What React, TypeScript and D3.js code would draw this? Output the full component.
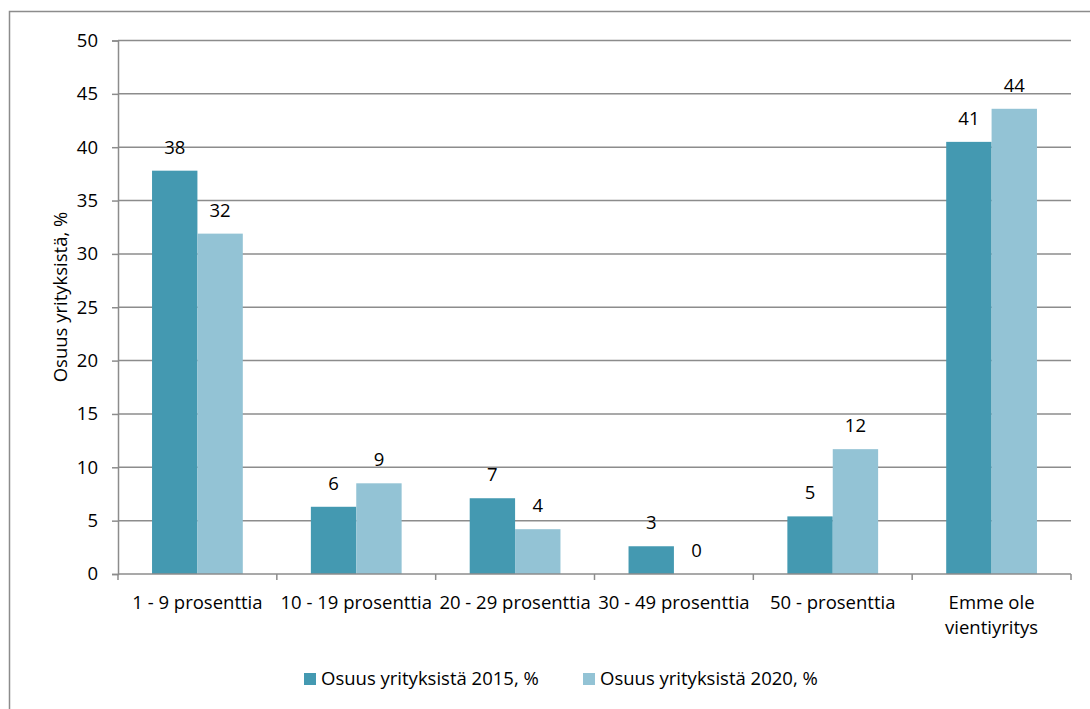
import * as d3 from "d3";
import { useEffect, useRef } from "react";

const categories = [
  ["1 - 9 prosenttia"],
  ["10 - 19 prosenttia"],
  ["20 - 29 prosenttia"],
  ["30 - 49 prosenttia"],
  ["50 - prosenttia"],
  ["Emme ole", "vientiyritys"],
];
const seriesNames = ["Osuus yrityksistä 2015, %", "Osuus yrityksistä 2020, %"];
const values2015 = [37.8, 6.3, 7.1, 2.6, 5.4, 40.5];
const values2020 = [31.9, 8.5, 4.2, 0, 11.7, 43.6];
const colors = ["#4499b1", "#93c3d5"];
const yTicks = [0, 5, 10, 15, 20, 25, 30, 35, 40, 45, 50];

export default function App() {
  const svgRef = useRef<SVGSVGElement>(null);

  useEffect(() => {
    if (!svgRef.current) return;
    const left = 118;
    const right = 1071;
    const top = 40.5;
    const bottom = 574;
    const font = "'Open Sans', Lato, sans-serif";
    const fs = 18.5;
    const gridColor = "#8c8c8c";

    const root = d3.select(svgRef.current);
    root.selectAll("*").remove();

    // outer frame (only top/left edges fall inside the picture)
    root
      .append("rect")
      .attr("x", 9.5)
      .attr("y", 11.5)
      .attr("width", 1200)
      .attr("height", 800)
      .attr("fill", "#fff")
      .attr("stroke", "#8c8c8c")
      .attr("stroke-width", 1.5);

    const x0 = d3
      .scaleBand<number>()
      .domain(categories.map((_, i) => i))
      .range([left, right])
      .padding(0);
    const x1 = d3
      .scaleBand<number>()
      .domain([0, 1])
      .range([0, x0.bandwidth()])
      .paddingInner(0)
      .paddingOuter(0.75);
    const y = d3.scaleLinear().domain([0, 50]).range([bottom, top]);

    // gridlines
    root
      .append("g")
      .selectAll("line")
      .data(yTicks.filter((t) => t > 0))
      .enter()
      .append("line")
      .attr("x1", left)
      .attr("x2", right)
      .attr("y1", (d) => y(d))
      .attr("y2", (d) => y(d))
      .attr("stroke", gridColor)
      .attr("stroke-width", 1.5);

    // bars + labels
    const series = [values2015, values2020];
    series.forEach((vals, s) => {
      root
        .append("g")
        .selectAll("rect")
        .data(vals)
        .enter()
        .append("rect")
        .attr("x", (_, i) => (x0(i) as number) + (x1(s) as number))
        .attr("y", (d) => y(d))
        .attr("width", x1.bandwidth())
        .attr("height", (d) => bottom - y(d))
        .attr("fill", colors[s]);

      root
        .append("g")
        .selectAll("text")
        .data(vals)
        .enter()
        .append("text")
        .attr("x", (_, i) => (x0(i) as number) + (x1(s) as number) + x1.bandwidth() / 2)
        .attr("y", (d) => y(d) - 17)
        .attr("text-anchor", "middle")
        .attr("font-family", font)
        .attr("font-size", fs)
        .attr("fill", "#000")
        .text((d) => Math.round(d).toString());
    });

    // y axis
    const yAxis = root
      .append("g")
      .attr("transform", `translate(${left},0)`)
      .call(d3.axisLeft(y).tickValues(yTicks).tickSize(6).tickPadding(14));
    yAxis.select(".domain").attr("stroke", gridColor).attr("stroke-width", 1.5);
    yAxis.selectAll(".tick line").attr("stroke", gridColor).attr("stroke-width", 1.5);
    yAxis
      .selectAll(".tick text")
      .attr("font-family", font)
      .attr("font-size", fs)
      .attr("fill", "#000");

    // x axis
    const xg = root.append("g");
    xg.append("line")
      .attr("x1", left)
      .attr("x2", right)
      .attr("y1", bottom)
      .attr("y2", bottom)
      .attr("stroke", gridColor)
      .attr("stroke-width", 1.5);
    const bounds = d3.range(categories.length + 1).map((i) =>
      i < categories.length ? (x0(i) as number) : right
    );
    xg.selectAll(".xtick")
      .data(bounds)
      .enter()
      .append("line")
      .attr("x1", (d) => d)
      .attr("x2", (d) => d)
      .attr("y1", bottom)
      .attr("y2", bottom + 6)
      .attr("stroke", gridColor)
      .attr("stroke-width", 1.5);
    categories.forEach((lines, i) => {
      const cx = (x0(i) as number) + x0.bandwidth() / 2;
      const t = xg
        .append("text")
        .attr("x", cx)
        .attr("y", 609)
        .attr("text-anchor", "middle")
        .attr("font-family", font)
        .attr("font-size", fs)
        .attr("fill", "#000");
      lines.forEach((l, k) => {
        t.append("tspan")
          .attr("x", cx)
          .attr("dy", k === 0 ? 0 : 25)
          .text(l);
      });
    });

    // y axis title
    root
      .append("text")
      .attr("transform", `translate(67,297) rotate(-90)`)
      .attr("text-anchor", "middle")
      .attr("font-family", font)
      .attr("font-size", fs)
      .attr("fill", "#000")
      .text("Osuus yrityksistä, %");

    // legend
    const legendX = [304, 583];
    seriesNames.forEach((name, s) => {
      const g = root.append("g").attr("transform", `translate(${legendX[s]},673)`);
      g.append("rect").attr("width", 12).attr("height", 12).attr("fill", colors[s]);
      g.append("text")
        .attr("x", 17)
        .attr("y", 12)
        .attr("font-family", font)
        .attr("font-size", fs)
        .attr("fill", "#000")
        .text(name);
    });
  }, []);

  return (
    <svg
      ref={svgRef}
      width={1090}
      height={709}
      style={{ position: "absolute", left: 0, top: 0, display: "block" }}
    />
  );
}
